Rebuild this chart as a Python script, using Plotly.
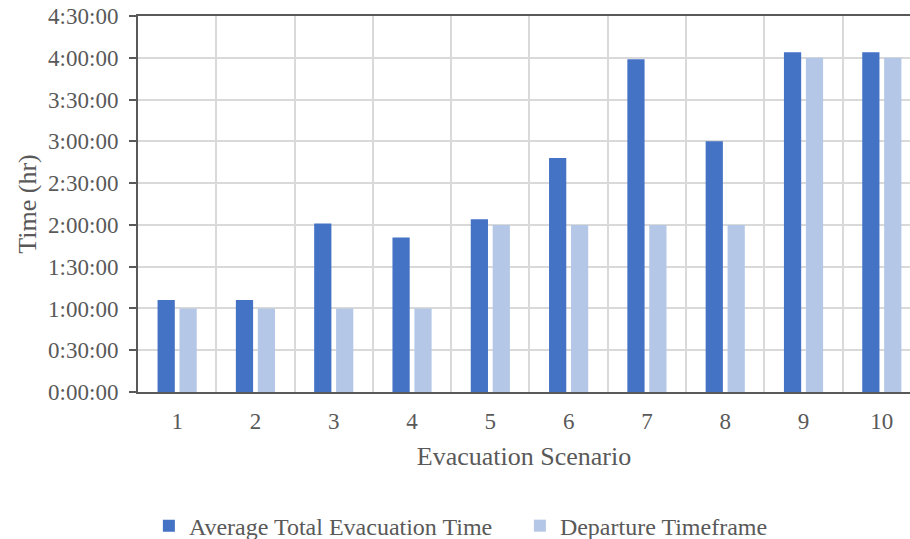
import plotly.graph_objects as go

# Evacuation scenarios and times (minutes)
scenarios = [1, 2, 3, 4, 5, 6, 7, 8, 9, 10]
avg_total_evac = [66, 66, 121, 111, 124, 168, 239, 180, 244, 244]
departure_timeframe = [60, 60, 60, 60, 120, 120, 120, 120, 240, 240]

# y-axis ticks (minutes) and their h:mm:ss labels
y_tickvals = [0, 30, 60, 90, 120, 150, 180, 210, 240, 270]
y_ticktext = ["0:00:00", "0:30:00", "1:00:00", "1:30:00", "2:00:00",
              "2:30:00", "3:00:00", "3:30:00", "4:00:00", "4:30:00"]

DARK = "#4472C4"
LIGHT = "#B4C7E7"
TEXT = "#595959"
GRID = "#D9D9D9"
FONT = "Liberation Serif, Times New Roman, serif"

fig = go.Figure()
fig.add_trace(go.Bar(
    x=scenarios, y=avg_total_evac, name="Average Total Evacuation Time",
    marker=dict(color=DARK, line=dict(width=0)),
    width=0.22, offset=-0.25,
))
fig.add_trace(go.Bar(
    x=scenarios, y=departure_timeframe, name="Departure Timeframe",
    marker=dict(color=LIGHT, line=dict(width=0)),
    width=0.22, offset=0.03,
))

fig.update_layout(
    width=910, height=539,
    margin=dict(l=138, r=0, t=16, b=147),
    paper_bgcolor="white", plot_bgcolor="white",
    barmode="overlay",
    font=dict(family=FONT, color=TEXT),
    showlegend=True,
    legend=dict(
        orientation="h", xanchor="left", yanchor="middle",
        xref="container", yref="container",
        x=0.1636, y=0.024,
        entrywidth=326, entrywidthmode="pixels",
        font=dict(family=FONT, size=24, color=TEXT),
        bgcolor="rgba(0,0,0,0)",
    ),
)

fig.update_xaxes(
    range=[0.5, 10.36], automargin=False,
    tickmode="array", tickvals=scenarios, ticktext=[str(s) for s in scenarios],
    tickfont=dict(family=FONT, size=23, color=TEXT),
    ticks="", ticklabelstandoff=7, showgrid=False, zeroline=False,
    showline=True, linecolor=TEXT, linewidth=2, mirror=True,
    minor=dict(tick0=0.5, dtick=1, showgrid=True, gridcolor=GRID, gridwidth=1.5, ticks=""),
    title=dict(text="Evacuation Scenario", font=dict(family=FONT, size=26, color=TEXT), standoff=14),
)

fig.update_yaxes(
    range=[0, 270], automargin=False,
    tickmode="array", tickvals=y_tickvals, ticktext=y_ticktext,
    tickfont=dict(family=FONT, size=23, color=TEXT),
    ticks="outside", ticklen=7, tickwidth=1.5, tickcolor=TEXT,
    ticklabelstandoff=6,
    showgrid=True, gridcolor=GRID, gridwidth=1.5, zeroline=False,
    showline=True, linecolor=TEXT, linewidth=2,
    title=dict(text="Time (hr)", font=dict(family=FONT, size=26, color=TEXT), standoff=4),
)

fig.write_html("out.html")
